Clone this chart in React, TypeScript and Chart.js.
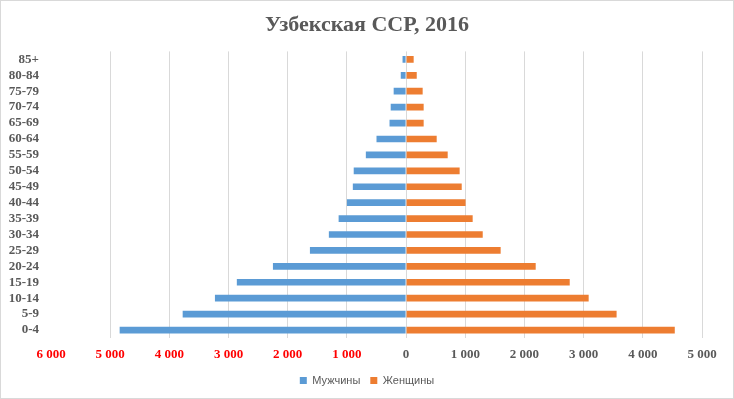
import React, { useEffect, useRef } from "react";
import { Chart, registerables } from "chart.js";

Chart.register(...registerables);

const ageGroups = ["85+", "80-84", "75-79", "70-74", "65-69", "60-64", "55-59", "50-54", "45-49", "40-44", "35-39", "30-34", "25-29", "20-24", "15-19", "10-14", "5-9", "0-4"];
const males = [60, 90, 210, 260, 280, 500, 680, 885, 900, 1000, 1140, 1305, 1625, 2250, 2860, 3230, 3775, 4840];
const females = [128, 180, 280, 297, 297, 517, 703, 905, 940, 1005, 1125, 1295, 1598, 2190, 2765, 3085, 3557, 4540];
const xMin = -6000;
const xMax = 5000;
const xStep = 1000;
const titleText = "Узбекская ССР, 2016";
const maleLabel = "Мужчины";
const femaleLabel = "Женщины";

const fmt = (v: number) => {
  const a = Math.abs(v);
  return a >= 1000 ? `${Math.floor(a / 1000)} ${String(a % 1000).padStart(3, "0")}` : String(a);
};

const borderPlugin = {
  id: "outerBorder",
  beforeDraw(chart: any) {
    const c = chart.ctx;
    c.save();
    c.fillStyle = "#ffffff";
    c.fillRect(0, 0, chart.width, chart.height);
    c.strokeStyle = "#d9d9d9";
    c.lineWidth = 1;
    c.strokeRect(0.5, 0.5, chart.width - 1, chart.height - 1);
    c.restore();
  },
};

export default function App() {
  const ref = useRef<HTMLCanvasElement>(null);
  useEffect(() => {
    document.body.style.margin = "0";
    const chart = new Chart(ref.current!, {
      type: "bar",
      data: {
        labels: ageGroups,
        datasets: [
          { label: maleLabel, data: males.map((v) => -v), backgroundColor: "#5b9bd5", barPercentage: 0.42, categoryPercentage: 1 },
          { label: femaleLabel, data: females, backgroundColor: "#ed7d31", barPercentage: 0.42, categoryPercentage: 1 },
        ],
      },
      options: {
        indexAxis: "y",
        animation: false,
        responsive: false,
        maintainAspectRatio: false,
        layout: { padding: { left: 0, right: 0, top: 0, bottom: 3 } },
        scales: {
          x: {
            stacked: true,
            min: xMin,
            max: xMax,
            ticks: {
              stepSize: xStep,
              padding: 9,
              maxRotation: 0,
              autoSkip: false,
              font: { family: "Liberation Serif", size: 13, weight: "bold" },
              color: (ctx: any) => (ctx.tick && ctx.tick.value < 0 ? "#ff0000" : "#595959"),
              callback: (v: any) => fmt(Number(v)),
            },
            grid: {
              drawTicks: false,
              color: (ctx: any) => (ctx.tick && ctx.tick.value === xMin ? "rgba(0,0,0,0)" : "#d9d9d9"),
              lineWidth: 1,
            },
            border: { display: false },
            afterFit: (s: any) => {
              s.height = 27;
            },
          },
          y: {
            stacked: true,
            ticks: {
              padding: 12,
              font: { family: "Liberation Serif", size: 13, weight: "bold" },
              color: "#595959",
              autoSkip: false,
            },
            grid: { display: false, drawTicks: false },
            border: { display: false },
            afterFit: (s: any) => {
              s.width = 51;
            },
          },
          yRight: {
            type: "category",
            position: "right",
            display: true,
            ticks: { display: false },
            grid: { display: false, drawTicks: false },
            border: { display: false },
            afterFit: (s: any) => {
              s.width = 32;
            },
          },
        },
        plugins: {
          title: {
            display: true,
            text: titleText,
            color: "#595959",
            font: { family: "Liberation Serif", size: 22, weight: "bold" },
            padding: { top: 12, bottom: 13 },
          },
          legend: {
            position: "bottom",
            labels: {
              boxWidth: 7,
              boxHeight: 7,
              padding: 10,
              color: "#595959",
              font: { family: "Liberation Sans", size: 11 },
            },
          },
          tooltip: { enabled: false },
        },
      },
      plugins: [borderPlugin],
    } as any);
    return () => chart.destroy();
  }, []);
  return <canvas ref={ref} width={734} height={399} style={{ display: "block" }} />;
}
